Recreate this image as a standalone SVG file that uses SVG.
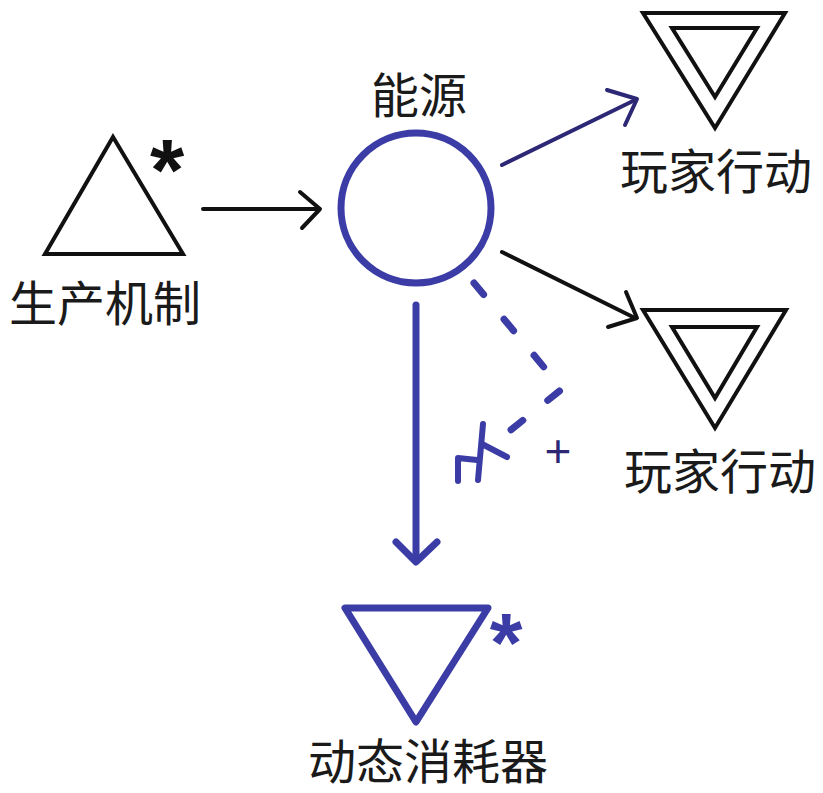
<svg xmlns="http://www.w3.org/2000/svg" width="823" height="793" viewBox="0 0 823 793">
<style>
.lbl{font-family:"Noto Sans CJK SC","Liberation Sans",sans-serif;font-size:48px;fill:#1a1a1a;text-anchor:middle}
.ast{font-family:"Liberation Sans",sans-serif;font-weight:bold;text-anchor:middle}
.blk{fill:none;stroke:#111;stroke-width:4;stroke-linejoin:miter}
.blu{fill:none;stroke:#3b3ca6;stroke-width:7;stroke-linecap:round;stroke-linejoin:round}
</style>
<rect width="823" height="793" fill="#fff"/>
<g id="source">
<polygon class="blk" points="113,137 183,254 45,254"/>
<text class="ast" x="167" y="200" font-size="88" fill="#111">*</text>
<text class="lbl" x="105" y="321">生产机制</text>
</g>
<g id="pool">
<circle cx="416" cy="208" r="75" fill="none" stroke="#3b3ca6" stroke-width="7"/>
<text class="lbl" x="419" y="113">能源</text>
</g>
<g id="action1">
<polygon class="blk" points="643,13 785,13 715,128"/>
<polygon class="blk" points="672,28 757,28 715,97"/>
<text class="lbl" x="716" y="189">玩家行动</text>
</g>
<g id="action2">
<polygon class="blk" points="643,310 786,310 715,428"/>
<polygon class="blk" points="672,327 757,327 715,398"/>
<text class="lbl" x="720" y="489">玩家行动</text>
</g>
<g id="drain">
<polygon points="345,608 488,608 416,722" fill="none" stroke="#3b3ca6" stroke-width="7" stroke-linejoin="round"/>
<text class="ast" x="506" y="672" font-size="84" fill="#3b3ca6">*</text>
<text class="lbl" x="428" y="779" font-size="47">动态消耗器</text>
</g>
<g id="connectors">
<g fill="none" stroke="#111" stroke-width="4" stroke-linecap="round" stroke-linejoin="round">
<line x1="203" y1="209" x2="318" y2="209"/>
<polyline points="300,192 320,209 302,228"/>
<line x1="502" y1="252" x2="635" y2="318"/>
<polyline points="626,292 637,318 608,327"/>
</g>
<g fill="none" stroke="#2d2875" stroke-width="4" stroke-linecap="round" stroke-linejoin="round">
<line x1="502" y1="165" x2="635" y2="100"/>
<polyline points="607,90 637,99 625,125"/>
</g>
<line class="blu" x1="416" y1="305" x2="416" y2="558"/>
<polyline class="blu" points="396,542 416,562 437,542"/>
<path class="blu" d="M474,283 L562,389 L497,441" stroke-dasharray="15 32"/>
<g fill="none" stroke="#3b3ca6" stroke-width="6" stroke-linecap="round" stroke-linejoin="round">
<line x1="483" y1="424" x2="478" y2="480"/>
<line x1="482" y1="444" x2="507" y2="457"/>
<polyline points="458,481 458,458 477,460"/>
</g>
<text x="558" y="467" font-family="'Liberation Sans',sans-serif" font-size="46" fill="#2d2875" text-anchor="middle">+</text>
</g>
</svg>
